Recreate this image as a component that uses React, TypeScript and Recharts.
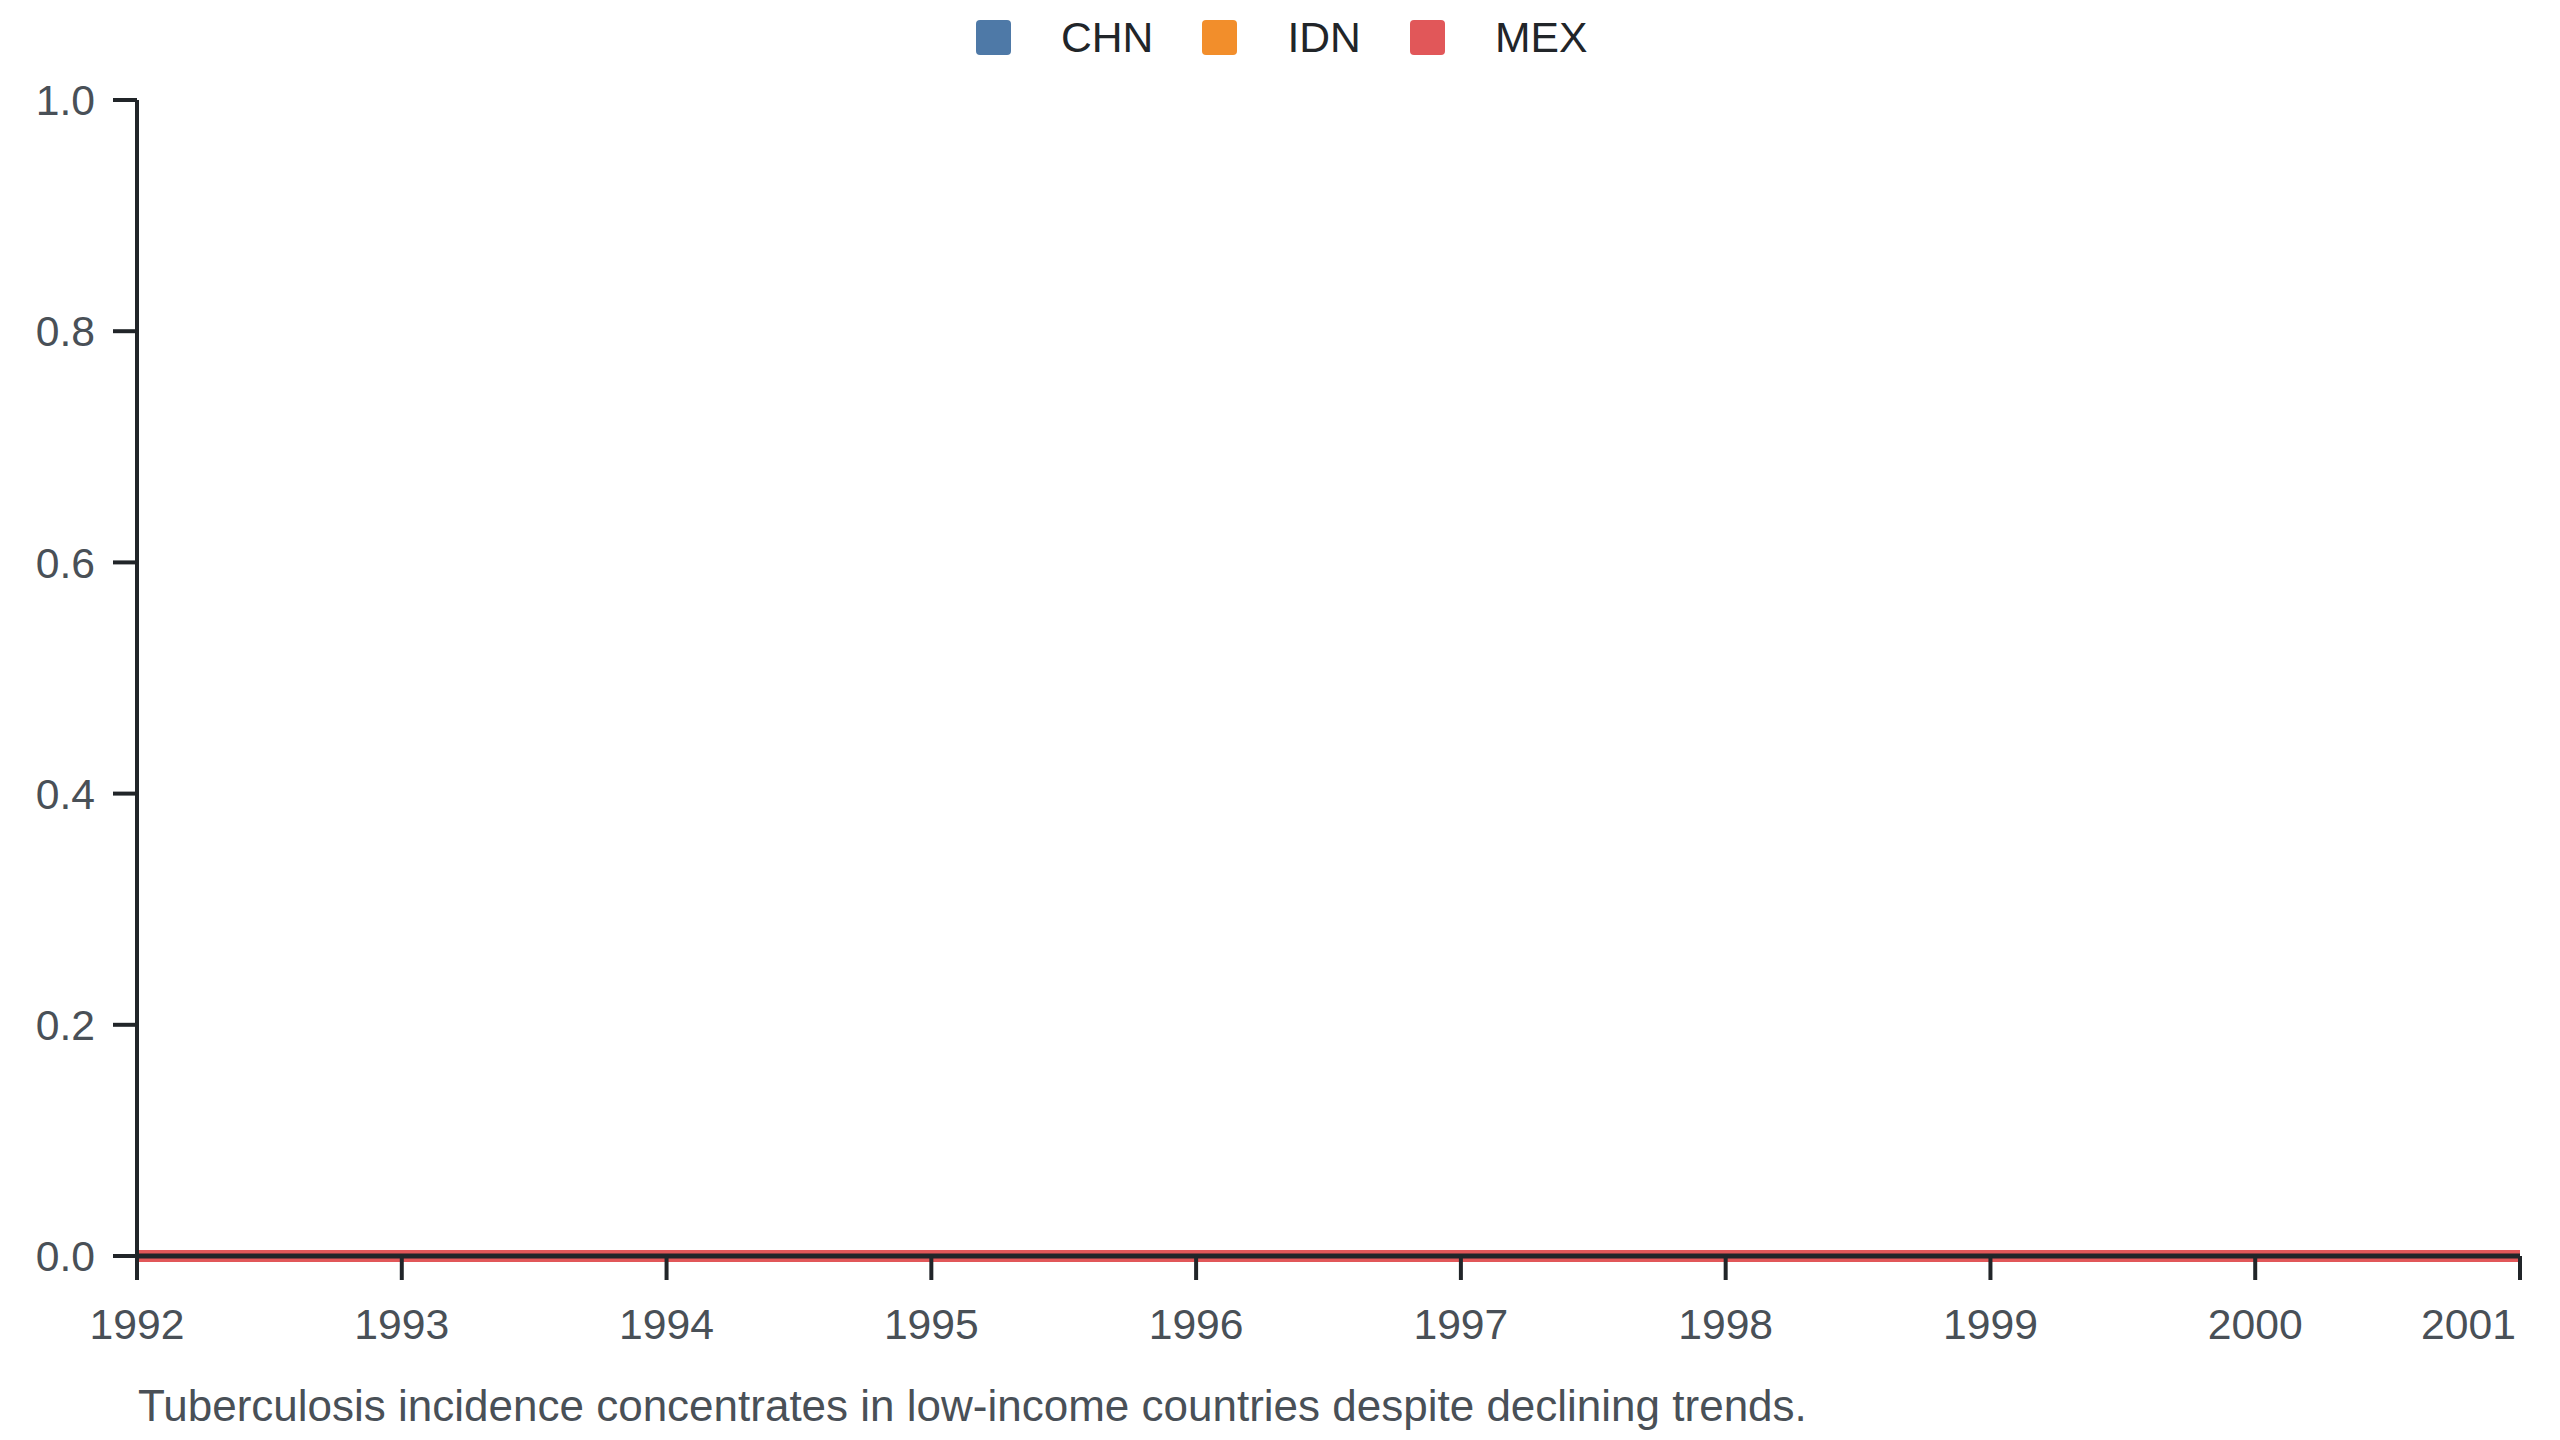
import React from "react";
import { LineChart, Line, XAxis, YAxis, Legend } from "recharts";

const years = [1992, 1993, 1994, 1995, 1996, 1997, 1998, 1999, 2000, 2001];
const chnValues = [0, 0, 0, 0, 0, 0, 0, 0, 0, 0];
const idnValues = [0, 0, 0, 0, 0, 0, 0, 0, 0, 0];
const mexValues = [0, 0, 0, 0, 0, 0, 0, 0, 0, 0];
const yTicks = [0, 0.2, 0.4, 0.6, 0.8, 1.0];
const seriesNames = ["CHN", "IDN", "MEX"];
const seriesColors = ["#4e79a7", "#f28e2b", "#e15759"];
const caption =
  "Tuberculosis incidence concentrates in low-income countries despite declining trends.";

const data = years.map((year, i) => ({
  year,
  CHN: chnValues[i],
  IDN: idnValues[i],
  MEX: mexValues[i],
}));

const FONT = "'Liberation Sans', Arial, Helvetica, sans-serif";
const FS = 42.67;
const AXIS = "#212529";
const LABEL = "#495057";

const LegendContent = (props: any) => {
  const payload = props.payload || [];
  const items = seriesNames
    .map((n) => payload.find((p: any) => p.value === n || p.dataKey === n))
    .filter(Boolean);
  return (
    <div
      style={{
        height: 100,
        boxSizing: "border-box",
        paddingTop: 20,
        paddingLeft: 976,
        display: "flex",
        alignItems: "flex-start",
        fontFamily: FONT,
        fontSize: FS,
        color: "#212529",
      }}
    >
      {items.map((it: any) => (
        <div
          key={it.value}
          style={{ display: "flex", alignItems: "center", height: 35, marginRight: 49 }}
        >
          <div
            style={{
              width: 35,
              height: 35,
              borderRadius: 4,
              background: it.color,
              marginRight: 50,
            }}
          />
          <span style={{ lineHeight: "35px", whiteSpace: "nowrap" }}>{it.value}</span>
        </div>
      ))}
    </div>
  );
};

const XTick = (props: any) => {
  const { x, y, payload, index, visibleTicksCount } = props;
  const isLast = payload.value === years[years.length - 1] || index === visibleTicksCount - 1;
  return (
    <text
      x={isLast ? x - 4 : x}
      y={y}
      dy="0.71em"
      textAnchor={isLast ? "end" : "middle"}
      fill={LABEL}
      fontSize={FS}
      fontFamily={FONT}
    >
      {payload.value}
    </text>
  );
};

export default function App() {
  return (
    <div style={{ position: "absolute", left: 0, top: 0, width: 2560, height: 1440, background: "#fff" }}>
      <LineChart
        width={2560}
        height={1440}
        data={data}
        margin={{ top: 0, right: 40, left: 0, bottom: 84 }}
        style={{ fontFamily: FONT }}
      >
        <Legend verticalAlign="top" align="left" content={<LegendContent />} wrapperStyle={{ left: 0, top: 0, width: 2560 }} />
        {seriesNames.map((name, i) => (
          <Line
            key={name}
            type="linear"
            dataKey={name}
            name={name}
            stroke={seriesColors[i]}
            strokeWidth={12}
            dot={false}
            activeDot={false}
            isAnimationActive={false}
          />
        ))}
        <XAxis
          dataKey="year"
          type="number"
          scale="linear"
          domain={[1992, 2001]}
          ticks={years}
          allowDecimals={false}
          height={100}
          tickSize={24}
          tickMargin={29}
          axisLine={{ stroke: AXIS, strokeWidth: 5 }}
          tickLine={{ stroke: AXIS, strokeWidth: 4 }}
          tick={<XTick />}
          interval={0}
        />
        <YAxis
          type="number"
          domain={[0, 1]}
          ticks={yTicks}
          width={137}
          tickSize={24}
          tickMargin={18}
          tickFormatter={(v: number) => v.toFixed(1)}
          axisLine={{ stroke: AXIS, strokeWidth: 4 }}
          tickLine={{ stroke: AXIS, strokeWidth: 4 }}
          tick={{ fill: LABEL, fontSize: FS, fontFamily: FONT }}
          interval={0}
        />
      </LineChart>
      <div
        style={{
          position: "absolute",
          left: 138,
          top: 1383.5,
          fontFamily: FONT,
          fontSize: 44,
          lineHeight: 1,
          color: LABEL,
          whiteSpace: "nowrap",
        }}
      >
        {caption}
      </div>
    </div>
  );
}
